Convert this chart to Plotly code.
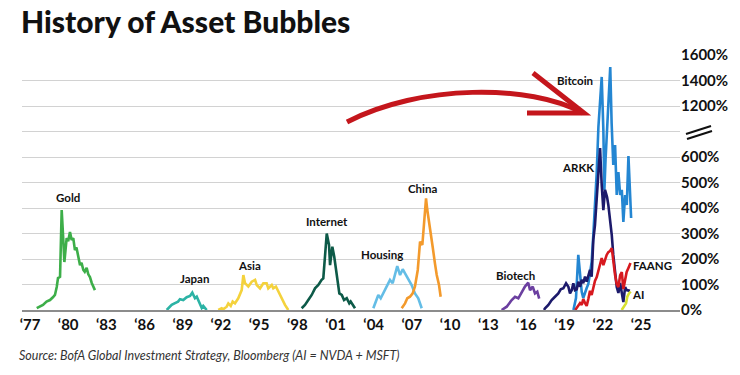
import plotly.graph_objects as go

# ---------------- data (percent return from start of bubble) ----------------
gold_x = [1977.53, 1977.8, 1978.02, 1978.3, 1978.57, 1978.8, 1978.96, 1979.1, 1979.2, 1979.36, 1979.49, 1979.6, 1979.7, 1979.88,
          1980.0, 1980.14, 1980.27, 1980.4, 1980.53, 1980.65, 1980.77, 1980.93, 1981.05, 1981.19, 1981.3, 1981.45, 1981.58,
          1981.71, 1981.85, 1981.97, 1982.1]
gold_y = [7, 16, 20, 33, 39, 50, 59, 90, 125, 130, 392, 290, 188, 282,
          270, 306, 275, 282, 235, 245, 208, 176, 185, 157, 150, 165, 140,
          129, 106, 90, 78]

japan_x = [1987.74, 1988.13, 1988.39, 1988.63, 1988.78, 1989.04, 1989.31, 1989.57, 1989.75, 1989.96, 1990.1, 1990.35,
           1990.49, 1990.61, 1990.88]
japan_y = [0, 20, 27, 33, 42, 39, 50, 55, 68, 46, 52, 20, 8, 16, 0]

asia_x = [1991.79, 1992.06, 1992.18, 1992.45, 1992.58, 1992.77, 1992.92, 1993.1, 1993.36, 1993.63, 1993.76, 1993.89,
          1994.15, 1994.42, 1994.68, 1994.81, 1995.07, 1995.33, 1995.59, 1995.72, 1995.99, 1996.11, 1996.32, 1996.5,
          1996.77, 1997.03, 1997.29]
asia_y = [0, 7, 3, 13, 26, 16, 33, 26, 46, 78, 137, 105, 92, 111, 118, 98, 85, 105, 105, 85, 98, 85, 92, 72,
          46, 20, 0]

internet_x = [1998.34, 1998.6, 1998.86, 1999.13, 1999.39, 1999.65, 1999.91, 2000.04, 2000.31, 2000.49, 2000.57, 2000.75,
              2000.9, 2001.09, 2001.3, 2001.49, 2001.67, 2001.88, 2002.08, 2002.19, 2002.53]
internet_y = [7, 20, 39, 59, 85, 98, 118, 124, 300, 255, 176, 248, 209, 131, 65, 59, 39, 46, 26, 33, 7]

housing_x = [2003.97, 2004.18, 2004.36, 2004.55, 2004.75, 2005.02, 2005.28, 2005.49, 2005.67, 2005.85, 2006.07, 2006.28,
             2006.46, 2006.72, 2006.98, 2007.24, 2007.5, 2007.77]
housing_y = [7, 33, 59, 46, 65, 92, 118, 105, 144, 172, 137, 160, 144, 118, 98, 65, 46, 7]

china_x = [2006.2, 2006.46, 2006.64, 2006.85, 2007.06, 2007.24, 2007.46, 2007.64, 2007.82, 2007.97, 2008.11, 2008.21,
           2008.42, 2008.63, 2008.81, 2008.95, 2009.13, 2009.26]
china_y = [7, 26, 46, 52, 65, 92, 157, 268, 255, 366, 438, 392, 327, 248, 183, 137, 98, 52]

biotech_x = [2014.05, 2014.45, 2014.84, 2015.1, 2015.36, 2015.62, 2015.88, 2016.14, 2016.28, 2016.49, 2016.67, 2016.85,
             2017.0]
biotech_y = [0, 13, 39, 52, 46, 72, 92, 107, 78, 92, 65, 72, 45]

arkk_x = [2017.38, 2017.46, 2017.72, 2017.98, 2018.24, 2018.5, 2018.69, 2018.9, 2019.11, 2019.29, 2019.42, 2019.56,
          2019.68, 2019.81, 2019.95, 2020.07, 2020.21, 2020.34, 2020.46, 2020.6, 2020.73, 2020.86, 2020.99, 2021.12,
          2021.25, 2021.38, 2021.52, 2021.65, 2021.78, 2021.91, 2022.04, 2022.17, 2022.33, 2022.43, 2022.56, 2022.7,
          2022.82, 2022.96, 2023.09, 2023.22, 2023.36, 2023.49, 2023.61, 2023.75, 2023.87, 2024.13]
arkk_y = [0, 7, 20, 39, 52, 65, 81, 85, 105, 91, 65, 78,
          105, 78, 81, 111, 91, 118, 105, 131, 111, 137, 157, 131,
          275, 333, 431, 541, 705, 490, 392, 471, 443, 412, 361, 294,
          216, 149, 90, 67, 106, 67, 31, 90, 78, 75]

bitcoin_x = [2019.69, 2019.89, 2020.07, 2020.21, 2020.34, 2020.46, 2020.6, 2020.73, 2020.86, 2020.99, 2021.12, 2021.25,
             2021.38, 2021.52, 2021.65, 2021.78, 2021.91, 2022.04, 2022.12, 2022.21, 2022.33, 2022.44, 2022.58, 2022.69,
             2022.82, 2022.96, 2023.09, 2023.22, 2023.36, 2023.49, 2023.61, 2023.75, 2023.88, 2024.01, 2024.14, 2024.22]
bitcoin_y = [0, 47, 216, 137, 71, 47, 71, 86, 102, 149, 188, 294,
             412, 541, 953, 1247, 1428, 918, 471, 588, 941, 1247, 1506, 994,
             569, 741, 451, 541, 451, 471, 345, 451, 412, 612, 451, 361]

faang_x = [2019.83, 2020.07, 2020.21, 2020.34, 2020.46, 2020.6, 2020.73, 2020.86, 2020.99, 2021.12, 2021.25, 2021.38,
           2021.52, 2021.65, 2021.78, 2021.91, 2022.04, 2022.17, 2022.3, 2022.43, 2022.56, 2022.7, 2022.82, 2022.96,
           2023.09, 2023.22, 2023.36, 2023.49, 2023.61, 2023.75, 2023.87, 2024.01, 2024.17]
faang_y = [0, 16, 27, 20, 43, 27, 16, 43, 75, 59, 90, 114,
           129, 153, 176, 204, 176, 200, 216, 227, 231, 243, 184, 137,
           102, 90, 137, 149, 82, 114, 149, 165, 184]

ai_x = [2023.48, 2023.66, 2023.82, 2023.92, 2024.05, 2024.19]
ai_y = [0, 13, 26, 52, 65, 72]

series_names = ["Gold", "Japan", "Asia", "Internet", "Housing", "China", "Biotech", "Bitcoin", "ARKK", "FAANG", "AI"]
series_x = [gold_x, japan_x, asia_x, internet_x, housing_x, china_x, biotech_x, bitcoin_x, arkk_x, faang_x, ai_x]
series_y = [gold_y, japan_y, asia_y, internet_y, housing_y, china_y, biotech_y, bitcoin_y, arkk_y, faang_y, ai_y]
series_colors = ["#3DAE49", "#2CB3A5", "#F4D23C", "#0D5A48", "#64BDE6", "#F39A2C", "#6B3FA0", "#2486D2", "#1C1A6B",
                 "#D7191F", "#D6DF2E"]

# label positions (year, percent)
label_x = [1979.99, 1989.96, 1994.28, 2000.33, 2004.65, 2007.87, 2015.1, 2019.81, 2020.05, 2025.9, 2024.76]
label_y = [443, 122, 173, 349, 216, 478, 137, 1398, 557, 176, 59]

tick_years = list(range(1977, 2026, 3))
tick_text_x = ["\u2018" + str(y)[2:] for y in tick_years]
y_tick_pct = [0, 100, 200, 300, 400, 500, 600, None, 1200, 1400, 1600]


# broken axis: 0-600% linear, 600-1200% compressed, 1200%+ at 200% per gridline
def to_axis(v):
    if v <= 600:
        return v / 100.0
    if v <= 1200:
        return 6 + (v - 600) / 300.0
    return 8 + (v - 1200) / 200.0


X0, X1 = 1976.372, 2028.06
Y0, Y1 = 0.0, 10.0
L, R, T, B = 22, 60, 55, 65
W, H = 740, 375
PW, PH = W - L - R, H - T - B


def px2x(px):
    return X0 + (px - L) / PW * (X1 - X0)


def py2y(py):
    return Y0 + (T + PH - py) / PH * (Y1 - Y0)


fig = go.Figure()
for name, xs, ys, c in zip(series_names, series_x, series_y, series_colors):
    fig.add_trace(go.Scatter(x=xs, y=[to_axis(v) for v in ys], mode="lines", name=name,
                             line=dict(color=c, width=2.6), showlegend=False, hoverinfo="skip"))

for name, lx, ly in zip(series_names, label_x, label_y):
    fig.add_annotation(x=lx, y=to_axis(ly), text=name, showarrow=False,
                       font=dict(family="Lato", size=11.5, color="#111", weight=700))

# red arrow (decoration)
p0 = (347, 122); c1 = (420, 84); c2 = (530, 84); p3 = (583, 113)
path = "M {},{} C {},{} {},{} {},{}".format(px2x(p0[0]), py2y(p0[1]), px2x(c1[0]), py2y(c1[1]),
                                            px2x(c2[0]), py2y(c2[1]), px2x(p3[0]), py2y(p3[1]))
fig.add_shape(type="path", path=path, xref="x", yref="y", line=dict(color="#C4161C", width=5))
head = "M {},{} L {},{} L {},{}".format(px2x(533), py2y(73), px2x(584), py2y(113), px2x(527), py2y(113))
fig.add_shape(type="path", path=head, xref="x", yref="y", line=dict(color="#C4161C", width=5))

# axis break marks "//"
for (ax0, ay0, ax1, ay1) in [(686, 134, 711, 126), (687, 139, 712, 131)]:
    fig.add_shape(type="line", xref="paper", yref="paper",
                  x0=(ax0 - L) / PW, y0=(T + PH - ay0) / PH, x1=(ax1 - L) / PW, y1=(T + PH - ay1) / PH,
                  line=dict(color="#111", width=2))

fig.update_layout(
    width=W, height=H,
    margin=dict(l=L, r=R, t=T, b=B, autoexpand=False),
    paper_bgcolor="white", plot_bgcolor="white",
    title=dict(text="History of Asset Bubbles", x=21 / W, xanchor="left", y=1 - 22 / H, yanchor="middle",
               xref="container", yref="container",
               font=dict(family="Lato", size=30, color="#111", weight=900)),
    xaxis=dict(range=[X0, X1], tickvals=tick_years, ticktext=tick_text_x, showgrid=False, automargin=False,
               showline=True, linecolor="#8c8c8c", linewidth=1.5, ticks="", zeroline=False,
               tickfont=dict(family="Lato", size=15, color="#111", weight=700)),
    yaxis=dict(range=[Y0, Y1], side="right", tickvals=list(range(11)), automargin=False,
               ticktext=["" if p is None else "{}%".format(p) for p in y_tick_pct],
               showgrid=True, gridcolor="#d2d2d2", gridwidth=1, zeroline=False, ticks="",
               tickfont=dict(family="Lato", size=15, color="#111", weight=700)),
)

fig.add_annotation(xref="paper", yref="paper", x=(17 - L) / PW, y=(T + PH - 355) / PH, xanchor="left",
                   yanchor="middle", showarrow=False,
                   text="<i>Source: BofA Global Investment Strategy, Bloomberg (AI = NVDA + MSFT)</i>",
                   font=dict(family="Lato", size=12.5, color="#333"))

fig.write_html("out.html", config={"displayModeBar": False},
               post_script="document.body.style.margin='0';document.body.style.overflow='hidden';")
